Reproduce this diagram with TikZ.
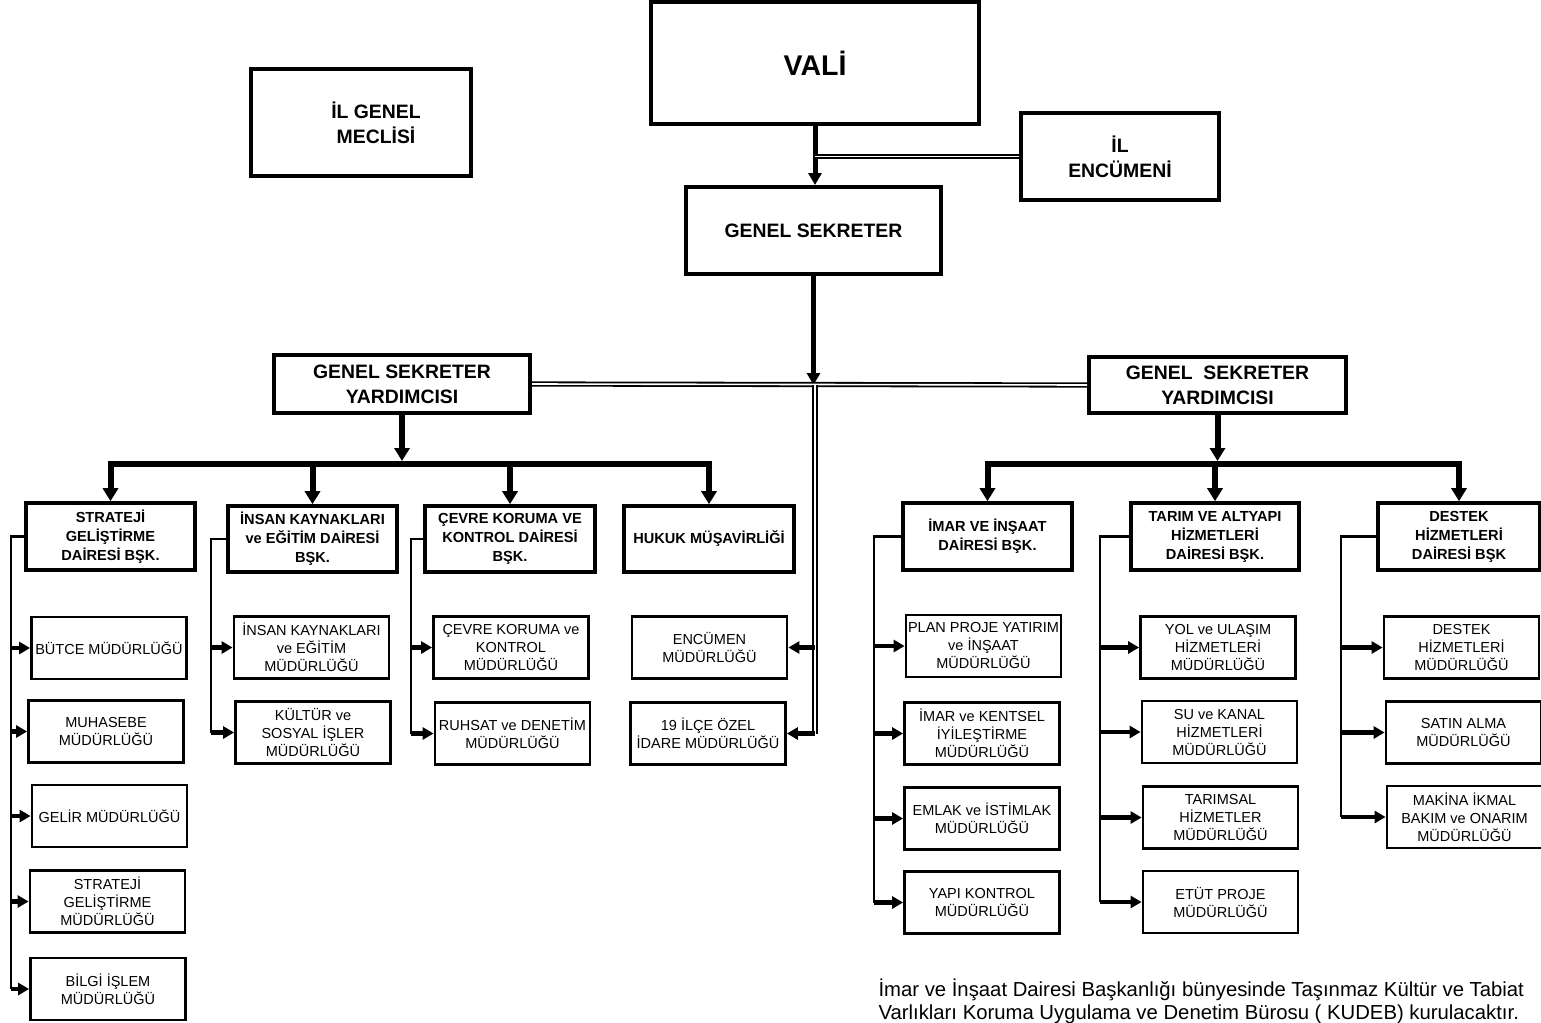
\documentclass[tikz,border=0pt]{standalone}
\usepackage{fontspec}
\setmainfont{Liberation Sans}
\usetikzlibrary{arrows.meta}

\begin{document}
\begin{tikzpicture}[x=1pt,y=1pt,yscale=-1,
  bigbox/.style={draw, line width=4pt, align=center, inner sep=0pt, font=\bfseries\fontsize{19.4}{25}\selectfont},
  deptbox/.style={draw, line width=3.6pt, align=center, inner sep=0pt, minimum width=169pt, minimum height=67pt, font=\bfseries\fontsize{14.6}{19}\selectfont},
  subbox/.style={draw, line width=2.8pt, align=center, inner sep=0pt, minimum width=155pt, minimum height=62pt, font=\fontsize{14.5}{18}\selectfont},
  bigline/.style={line width=6pt},
  bigarrow/.style={line width=6pt, -{Triangle[length=13pt,width=15pt]}},
  midarrow/.style={line width=5pt, -{Triangle[length=12pt,width=13pt]}},
  busline/.style={line width=2.8pt},
  subarrow/.style={line width=4.5pt, -{Triangle[length=11pt,width=12pt]}},
  dbl/.style={double, double distance=1.6pt, line width=1.8pt}]
\useasboundingbox (0,0) rectangle (1541,1022);

%Shape: Rectangle [top]
\node[bigbox, minimum width=328pt, minimum height=122pt, font=\bfseries\fontsize{28.5}{32}\selectfont] (vali) at (815,63) {VALİ};
\node[bigbox, minimum width=220pt, minimum height=107pt] (meclis) at (361,122.5) {\hspace*{30pt}İL GENEL\\\hspace*{30pt}MECLİSİ};
\node[bigbox, minimum width=198pt, minimum height=87pt] (encumeni) at (1120,156.5) {İL\\ENCÜMENİ};
\node[bigbox, minimum width=255pt, minimum height=87pt] (gs) at (813.5,230.5) {GENEL SEKRETER};
\node[bigbox, minimum width=256pt, minimum height=58pt] (gsyl) at (402,384) {GENEL SEKRETER\\YARDIMCISI};
\node[bigbox, minimum width=257pt, minimum height=56pt] (gsyr) at (1217.5,385) {GENEL\ \ SEKRETER\\YARDIMCISI};

%Shape: Rectangle [daireler]
\node[deptbox] (sgdb) at (110.5,536.5) {STRATEJİ\\GELİŞTİRME\\DAİRESİ BŞK.};
\node[deptbox, minimum height=66pt] (ikdb) at (312.5,539) {İNSAN KAYNAKLARI\\ve EĞİTİM DAİRESİ\\BŞK.};
\node[deptbox, minimum width=170pt, minimum height=66pt] (ckdb) at (510,539) {ÇEVRE KORUMA VE\\KONTROL DAİRESİ\\BŞK.};
\node[deptbox, minimum width=170pt, minimum height=66pt] (hukuk) at (709,539) {HUKUK MÜŞAVİRLİĞİ};
\node[deptbox] (imardb) at (987.5,536.5) {İMAR VE İNŞAAT\\DAİRESİ BŞK.};
\node[deptbox, minimum width=168pt] (tarimdb) at (1215,536.5) {TARIM VE ALTYAPI\\HİZMETLERİ\\DAİRESİ BŞK.};
\node[deptbox, minimum width=162pt] (destekdb) at (1459,536.5) {DESTEK\\HİZMETLERİ\\DAİRESİ BŞK};

%Shape: Rectangle [mudurlukler]
\node[subbox] (butce) at (109,648) {BÜTCE MÜDÜRLÜĞÜ};
\node[subbox] (muhasebe) at (106,731.5) {MUHASEBE\\MÜDÜRLÜĞÜ};
\node[subbox] (gelir) at (109.5,816) {GELİR MÜDÜRLÜĞÜ};
\node[subbox] (sgmud) at (107.5,901.5) {STRATEJİ\\GELİŞTİRME\\MÜDÜRLÜĞÜ};
\node[subbox] (bilgi) at (108,989) {BİLGİ İŞLEM\\MÜDÜRLÜĞÜ};
\node[subbox] (ikmud) at (311.5,647.5) {İNSAN KAYNAKLARI\\ve EĞİTİM\\MÜDÜRLÜĞÜ};
\node[subbox] (kultur) at (313,732.5) {KÜLTÜR ve\\SOSYAL İŞLER\\MÜDÜRLÜĞÜ};
\node[subbox] (ckmud) at (511,647.5) {ÇEVRE KORUMA ve\\KONTROL\\MÜDÜRLÜĞÜ};
\node[subbox] (ruhsat) at (512.5,733.5) {RUHSAT ve DENETİM\\MÜDÜRLÜĞÜ};
\node[subbox] (encmud) at (709.5,647.5) {ENCÜMEN\\MÜDÜRLÜĞÜ};
\node[subbox] (ilce) at (708,733.5) {19 İLÇE ÖZEL\\İDARE MÜDÜRLÜĞÜ};
\node[subbox] (plan) at (983.5,646) {PLAN PROJE YATIRIM\\ve İNŞAAT\\MÜDÜRLÜĞÜ};
\node[subbox] (kentsel) at (982,733.5) {İMAR ve KENTSEL\\İYİLEŞTİRME\\MÜDÜRLÜĞÜ};
\node[subbox] (emlak) at (982,818.5) {EMLAK ve İSTİMLAK\\MÜDÜRLÜĞÜ};
\node[subbox] (yapi) at (982,902.5) {YAPI KONTROL\\MÜDÜRLÜĞÜ};
\node[subbox] (yol) at (1218,647.5) {YOL ve ULAŞIM\\HİZMETLERİ\\MÜDÜRLÜĞÜ};
\node[subbox] (su) at (1219.5,732) {SU ve KANAL\\HİZMETLERİ\\MÜDÜRLÜĞÜ};
\node[subbox] (tarimsal) at (1220.5,817.5) {TARIMSAL\\HİZMETLER\\MÜDÜRLÜĞÜ};
\node[subbox] (etut) at (1220.5,902) {ETÜT PROJE\\MÜDÜRLÜĞÜ};
\node[subbox] (dhmud) at (1461.5,647.5) {DESTEK\\HİZMETLERİ\\MÜDÜRLÜĞÜ};
\node[subbox] (satin) at (1463.5,732.5) {SATIN ALMA\\MÜDÜRLÜĞÜ};
\node[subbox] (makina) at (1464.5,817) {MAKİNA İKMAL\\BAKIM ve ONARIM\\MÜDÜRLÜĞÜ};

%Straight Lines [ust]
\coordinate (mid) at (815,385);
\coordinate (bar) at (0,464);
\draw[midarrow] (vali.south) -- (vali.south |- gs.north);
\draw[dbl] (encumeni.west) -- (vali.south |- encumeni.west);
\draw[midarrow] (gs.south) -- (gs.south |- mid);
\draw[dbl] (gsyl.east) -- (gsyr.west);
\draw[dbl] (mid) -- (mid |- ilce.east);
\draw[subarrow] (mid |- encmud.east) -- (encmud.east);
\draw[subarrow] (mid |- ilce.east) -- (ilce.east);

%Straight Lines [sol]
\draw[bigarrow, shorten >=3pt] (gsyl.south) -- (gsyl.south |- bar);
\draw[bigline, {Triangle[length=13pt,width=15pt]}-{Triangle[length=13pt,width=15pt]}] (sgdb.north) -- (sgdb.north |- bar) -- (hukuk.north |- bar) -- (hukuk.north);
\draw[bigarrow] (ikdb.north |- bar) -- (ikdb.north);
\draw[bigarrow] (ckdb.north |- bar) -- (ckdb.north);

%Straight Lines [sag]
\draw[bigarrow, shorten >=3pt] (gsyr.south) -- (gsyr.south |- bar);
\draw[bigline, {Triangle[length=13pt,width=15pt]}-{Triangle[length=13pt,width=15pt]}] (imardb.north) -- (imardb.north |- bar) -- (destekdb.north |- bar) -- (destekdb.north);
\draw[bigarrow] (tarimdb.north |- bar) -- (tarimdb.north);

%Straight Lines [mudurluk baglari]
\coordinate (sgbus) at (11,0);
\coordinate (ikbus) at (211,0);
\coordinate (ckbus) at (411,0);
\coordinate (imarbus) at (874,0);
\coordinate (tarimbus) at (1100,0);
\coordinate (destekbus) at (1341,0);
\draw[busline] (sgdb.west) -| (sgbus |- bilgi.west);
\draw[subarrow] (sgbus |- butce.west) -- (butce.west);
\draw[subarrow] (sgbus |- muhasebe.west) -- (muhasebe.west);
\draw[subarrow] (sgbus |- gelir.west) -- (gelir.west);
\draw[subarrow] (sgbus |- sgmud.west) -- (sgmud.west);
\draw[subarrow] (sgbus |- bilgi.west) -- (bilgi.west);
\draw[busline] (ikdb.west) -| (ikbus |- kultur.west);
\draw[subarrow] (ikbus |- ikmud.west) -- (ikmud.west);
\draw[subarrow] (ikbus |- kultur.west) -- (kultur.west);
\draw[busline] (ckdb.west) -| (ckbus |- ruhsat.west);
\draw[subarrow] (ckbus |- ckmud.west) -- (ckmud.west);
\draw[subarrow] (ckbus |- ruhsat.west) -- (ruhsat.west);
\draw[busline] (imardb.west) -| (imarbus |- yapi.west);
\draw[subarrow] (imarbus |- plan.west) -- (plan.west);
\draw[subarrow] (imarbus |- kentsel.west) -- (kentsel.west);
\draw[subarrow] (imarbus |- emlak.west) -- (emlak.west);
\draw[subarrow] (imarbus |- yapi.west) -- (yapi.west);
\draw[busline] (tarimdb.west) -| (tarimbus |- etut.west);
\draw[subarrow] (tarimbus |- yol.west) -- (yol.west);
\draw[subarrow] (tarimbus |- su.west) -- (su.west);
\draw[subarrow] (tarimbus |- tarimsal.west) -- (tarimsal.west);
\draw[subarrow] (tarimbus |- etut.west) -- (etut.west);
\draw[busline] (destekdb.west) -| (destekbus |- makina.west);
\draw[subarrow] (destekbus |- dhmud.west) -- (dhmud.west);
\draw[subarrow] (destekbus |- satin.west) -- (satin.west);
\draw[subarrow] (destekbus |- makina.west) -- (makina.west);

% Text Node
\node[anchor=base west, align=left, font=\fontsize{20.3}{23}\selectfont] (note) at (875,1019) {İmar ve İnşaat Dairesi Başkanlığı bünyesinde Taşınmaz Kültür ve Tabiat\\Varlıkları Koruma Uygulama ve Denetim Bürosu ( KUDEB) kurulacaktır.};

\end{tikzpicture}
\end{document}
